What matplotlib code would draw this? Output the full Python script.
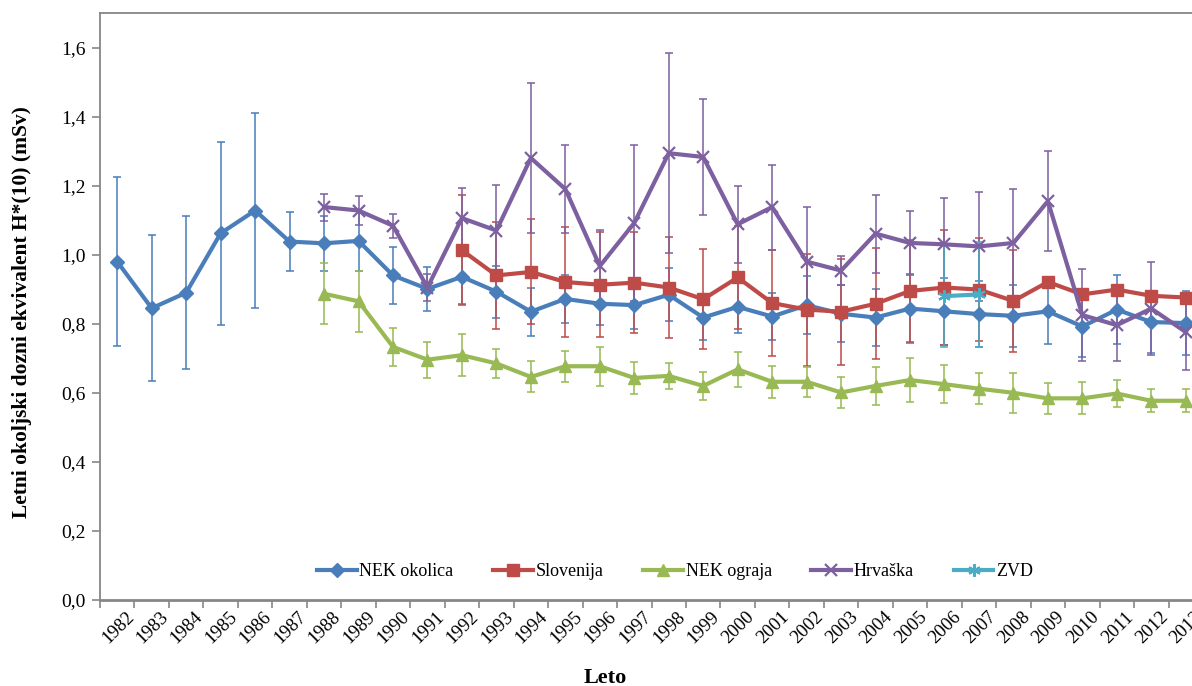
import numpy as np
import matplotlib
matplotlib.use("Agg")
import matplotlib.pyplot as plt
from matplotlib.ticker import FuncFormatter, FixedLocator
from matplotlib.lines import Line2D
import matplotlib.transforms as mtransforms

nan = np.nan
years = list(range(1982, 2014))

nek_okolica = [0.98, 0.845, 0.89, 1.062, 1.128, 1.038, 1.033, 1.04, 0.94, 0.901,
               0.936, 0.893, 0.835, 0.872, 0.858, 0.854, 0.884, 0.818, 0.849, 0.821,
               0.854, 0.829, 0.818, 0.844, 0.836, 0.828, 0.823, 0.836, 0.792, 0.841,
               0.805, 0.802]
nek_okolica_err = [0.245, 0.212, 0.222, 0.265, 0.282, 0.086, 0.08, 0.087, 0.083, 0.064,
                   0.08, 0.075, 0.07, 0.07, 0.062, 0.068, 0.077, 0.065, 0.077, 0.067,
                   0.085, 0.083, 0.083, 0.1, 0.097, 0.095, 0.09, 0.096, 0.088, 0.1,
                   0.09, 0.093]

slovenija = [nan] * 10 + [1.013, 0.94, 0.95, 0.921, 0.913, 0.919, 0.905, 0.871, 0.934, 0.86,
                          0.841, 0.835, 0.858, 0.895, 0.905, 0.899, 0.866, 0.921, 0.885, 0.899,
                          0.881, 0.876]
slovenija_err = [nan] * 10 + [0.159, 0.155, 0.152, 0.158, 0.152, 0.146, 0.145, 0.145, 0.148, 0.153,
                              0.162, 0.153, 0.16, 0.148, 0.166, 0.15, 0.149, nan, nan, nan,
                              nan, nan]

nek_ograja = [nan] * 6 + [0.887, 0.865, 0.733, 0.696, 0.709, 0.685, 0.646, 0.677, 0.677, 0.643,
                          0.649, 0.62, 0.668, 0.632, 0.632, 0.601, 0.62, 0.637, 0.625, 0.612,
                          0.6, 0.584, 0.584, 0.598, 0.577, 0.577]
nek_ograja_err = [nan] * 6 + [0.088, 0.088, 0.056, 0.052, 0.06, 0.043, 0.045, 0.045, 0.057, 0.047,
                              0.038, 0.04, 0.05, 0.046, 0.044, 0.044, 0.056, 0.063, 0.055, 0.045,
                              0.057, 0.045, 0.046, 0.039, 0.033, 0.033]

hrvaska = [nan] * 6 + [1.138, 1.128, 1.084, 0.905, 1.106, 1.07, 1.28, 1.19, 0.967, 1.092,
                       1.294, 1.283, 1.088, 1.138, 0.98, 0.954, 1.061, 1.034, 1.03, 1.024,
                       1.034, 1.155, 0.825, 0.796, 0.844, 0.776]
hrvaska_err = [nan] * 6 + [0.039, 0.043, 0.035, 0.038, 0.087, 0.132, 0.218, 0.127, 0.104, 0.227,
                           0.29, 0.168, 0.112, 0.123, 0.157, 0.042, 0.113, 0.092, 0.135, 0.159,
                           0.157, 0.144, 0.134, 0.104, 0.134, 0.11]

zvd = [nan] * 24 + [0.88, 0.885] + [nan] * 6
zvd_err = [nan] * 24 + [0.147, 0.152] + [nan] * 6

series = [
    ("NEK okolica", nek_okolica, nek_okolica_err, "#4A7EBB", "D", 7.5),
    ("Slovenija", slovenija, slovenija_err, "#BE4B48", "s", 8.5),
    ("NEK ograja", nek_ograja, nek_ograja_err, "#98B954", "^", 8.5),
    ("Hrvaška", hrvaska, hrvaska_err, "#7D60A0", "x", 9),
    ("ZVD", zvd, zvd_err, "#4BACC6", (6, 2, 0), 9),
]

plt.rcParams['font.family'] = ['Liberation Serif', 'DejaVu Serif']

fig = plt.figure(figsize=(11.92, 6.86), dpi=100)
ax = fig.add_axes([100 / 1192, 1 - 600 / 686, 1103 / 1192, 587 / 686])

x = np.arange(len(years))
handles = []
for i, (name, vals, errs, col, mk, ms) in enumerate(series):
    v = np.array(vals, dtype=float)
    e = np.array(errs, dtype=float)
    m = ~np.isnan(e)
    ax.errorbar(x[m], v[m], yerr=e[m], fmt='none', ecolor=col, elinewidth=1.3,
                capsize=3, capthick=1.3, alpha=0.85, zorder=2 + i * 0.1)
    mew = 1.6 if mk in ("x", (6, 2, 0)) else 1.0
    ax.plot(x, v, color=col, lw=3.0, marker=mk, markersize=ms, markeredgewidth=mew,
            markerfacecolor=col, markeredgecolor=col, zorder=3 + i * 0.1)
    handles.append(Line2D([], [], color=col, lw=3.0, marker=mk, markersize=ms,
                          markeredgewidth=mew, markerfacecolor=col, markeredgecolor=col))

ax.set_xlim(-0.5, len(years) - 0.5)
ax.set_ylim(0, 1.7)
ax.yaxis.set_major_locator(FixedLocator([0, 0.2, 0.4, 0.6, 0.8, 1.0, 1.2, 1.4, 1.6]))
ax.yaxis.set_major_formatter(FuncFormatter(lambda v, p: f"{v:.1f}".replace('.', ',')))

ax.set_xticks(x)
ax.set_xticklabels([str(y) for y in years], rotation=45, ha='right', va='top',
                   rotation_mode='anchor', fontsize=13.5)
ax.set_xticks(np.arange(-0.5, len(years), 1.0), minor=True)
ax.tick_params(axis='x', which='major', length=0, pad=6)
ax.tick_params(axis='x', which='minor', length=6, width=1.2, color='#868686')
ax.tick_params(axis='y', which='major', length=6, width=1.2, color='#868686', labelsize=14, pad=4)
offset = mtransforms.ScaledTranslation(8 / 100, 0, fig.dpi_scale_trans)
for lab in ax.get_xticklabels():
    lab.set_transform(lab.get_transform() + offset)

for s in ax.spines.values():
    s.set_color('#868686')
    s.set_linewidth(1.3)
ax.spines['bottom'].set_linewidth(2.0)

fig.text(22 / 1192, 1 - 312 / 686, "Letni okoljski dozni ekvivalent H*(10) (mSv)",
         rotation=90, ha='center', va='center', fontsize=15.5, fontweight='bold')
fig.text(605 / 1192, 1 - 678 / 686, "Leto", ha='center', va='center',
         fontsize=16, fontweight='bold')

ax.legend(handles, [s[0] for s in series], ncol=5, frameon=False, fontsize=13,
          loc='center', bbox_to_anchor=(675 / 1192, 1 - 572 / 686),
          bbox_transform=fig.transFigure, handlelength=2.2, handletextpad=0.15,
          columnspacing=2.2)

fig.savefig("out.png", dpi=100)
